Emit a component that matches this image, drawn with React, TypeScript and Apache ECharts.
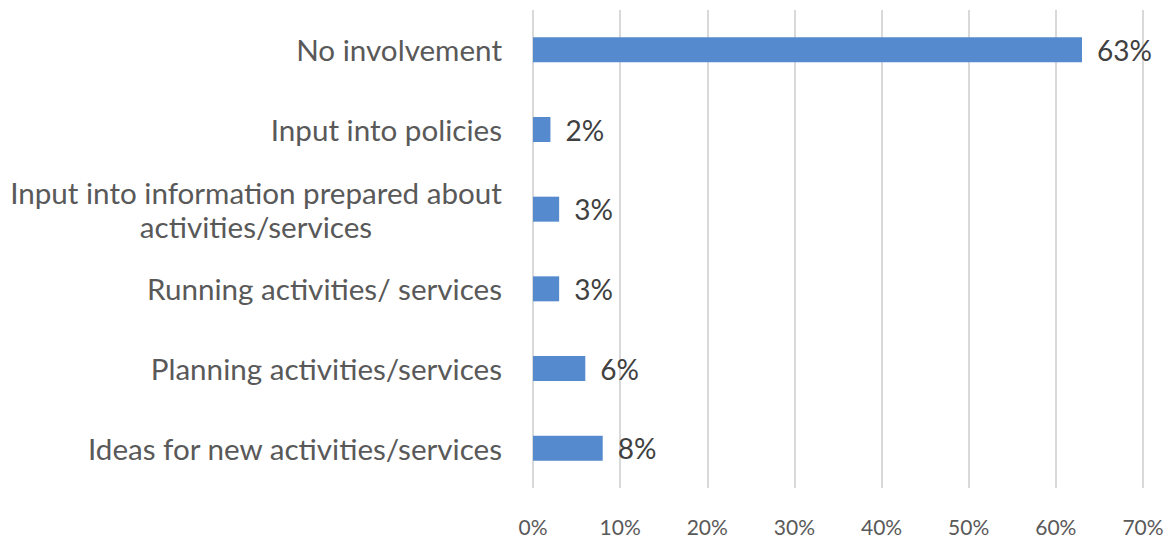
import React, { useEffect, useRef } from "react";
import * as echarts from "echarts";

const categories = [
  "No involvement",
  "Input into policies",
  "Input into information prepared about\nactivities/services",
  "Running activities/ services",
  "Planning activities/services",
  "Ideas for new activities/services",
];
const values = [63, 2, 3, 3, 6, 8];
const tickValues = [0, 10, 20, 30, 40, 50, 60, 70];

const FONT = "Lato, 'Open Sans', sans-serif";

export default function App() {
  const ref = useRef<HTMLDivElement>(null);
  useEffect(() => {
    if (!ref.current) return;
    const chart = echarts.init(ref.current, undefined, { renderer: "svg" });
    chart.setOption({
      animation: false,
      backgroundColor: "#ffffff",
      grid: { left: 533, right: 25, top: 10, bottom: 52, containLabel: false },
      xAxis: {
        type: "value",
        min: tickValues[0],
        max: tickValues[tickValues.length - 1],
        interval: 10,
        axisLine: { show: false },
        axisTick: { show: false },
        splitLine: { show: true, lineStyle: { color: "#d9d9d9", width: 2 } },
        axisLabel: {
          formatter: (v: number) => `${v}%`,
          color: "#595959",
          fontSize: 21,
          fontFamily: FONT,
          margin: 28,
        },
      },
      yAxis: {
        type: "category",
        inverse: true,
        data: categories,
        axisLine: { show: false },
        axisTick: { show: false },
        axisLabel: {
          color: "#595959",
          fontSize: 29.6,
          fontFamily: FONT,
          margin: 31,
          lineHeight: 34,
          formatter: (v: string) =>
            v.includes("\n")
              ? v
                  .split("\n")
                  .map((l) => `{c|${l}}`)
                  .join("\n")
              : v,
          rich: {
            c: {
              width: 492,
              align: "center",
              color: "#595959",
              fontSize: 29.6,
              fontFamily: FONT,
              lineHeight: 34,
            },
          },
        },
      },
      series: [
        {
          type: "bar",
          data: values,
          barWidth: 25,
          itemStyle: { color: "#558ACF" },
          label: {
            show: true,
            position: "right",
            distance: 15,
            formatter: (p: any) => `${p.value}%`,
            color: "#404040",
            fontSize: 28,
            fontFamily: FONT,
          },
        },
      ],
    });
    return () => chart.dispose();
  }, []);
  return (
    <div
      ref={ref}
      style={{ position: "absolute", left: 0, top: 0, width: 1168, height: 540 }}
    />
  );
}
